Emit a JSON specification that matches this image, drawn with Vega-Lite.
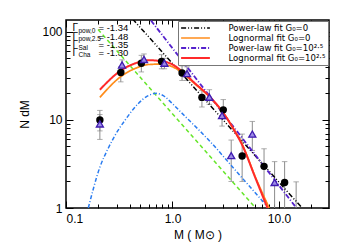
{
  "$schema": "https://vega.github.io/schema/vega-lite/v6.json",
  "width": 263,
  "height": 188,
  "autosize": "none",
  "padding": {"left": 66, "top": 20, "right": 21, "bottom": 42},
  "config": {
    "font": "Liberation Sans",
    "view": {"stroke": "black", "strokeWidth": 1.5},
    "axis": {"domain": false, "grid": false, "labelFont": "Liberation Sans", "labelFontSize": 12, "labelColor": "black", "titleFont": "Liberation Sans", "titleFontSize": 12, "titleFontWeight": "normal", "titleColor": "black", "tickColor": "black", "tickWidth": 1}
  },
  "datasets": {
    "pts": [
      {"type": "circle", "m": 0.208, "n": 10.0, "lo": 7.5, "hi": 12.8},
      {"type": "circle", "m": 0.327, "n": 34.5, "lo": 27, "hi": 40},
      {"type": "circle", "m": 0.51, "n": 44, "lo": 35, "hi": 54},
      {"type": "circle", "m": 0.79, "n": 46, "lo": 38, "hi": 55},
      {"type": "circle", "m": 1.23, "n": 34, "lo": 28, "hi": 41},
      {"type": "circle", "m": 1.89, "n": 18, "lo": 14, "hi": 21.5},
      {"type": "circle", "m": 3.0, "n": 13, "lo": 10.3, "hi": 17},
      {"type": "circle", "m": 4.51, "n": 3.9, "lo": 2.0, "hi": 6.9},
      {"type": "circle", "m": 7.24, "n": 2.97, "lo": 1.2, "hi": 4.7},
      {"type": "circle", "m": 11.3, "n": 1.95, "lo": 0.8, "hi": 3.36},
      {"type": "triangle", "m": 0.208, "n": 9.0, "lo": 6.0, "hi": 11.5},
      {"type": "triangle", "m": 0.336, "n": 42, "lo": 36, "hi": 48},
      {"type": "triangle", "m": 0.54, "n": 48.5, "lo": 42, "hi": 56},
      {"type": "triangle", "m": 0.84, "n": 44, "lo": 38, "hi": 50},
      {"type": "triangle", "m": 1.37, "n": 33.5, "lo": 28, "hi": 40},
      {"type": "triangle", "m": 2.22, "n": 18.1, "lo": 15, "hi": 22},
      {"type": "triangle", "m": 2.92, "n": 11.2, "lo": 8.5, "hi": 13},
      {"type": "triangle", "m": 3.56, "n": 3.93, "lo": 2.0, "hi": 5.9},
      {"type": "triangle", "m": 5.62, "n": 6.9, "lo": 4.5, "hi": 9.6},
      {"type": "triangle", "m": 9.1, "n": 1.95, "lo": 0.8, "hi": 3.36},
      {"type": "triangle", "m": 14.5, "n": 0.5, "lo": 0.7, "hi": 1.98}
    ],
    "fits": [
      {"fit": "Power-law fit G₀=0", "m": 0.35, "n": 180},
      {"fit": "Power-law fit G₀=0", "m": 16.5, "n": 1},
      {"fit": "Power-law fit G₀=10²·⁵", "m": 0.55, "n": 165},
      {"fit": "Power-law fit G₀=10²·⁵", "m": 14.6, "n": 1},
      {"fit": "Lognormal fit G₀=0", "m": 0.208, "n": 18},
      {"fit": "Lognormal fit G₀=0", "m": 0.327, "n": 31},
      {"fit": "Lognormal fit G₀=0", "m": 0.45, "n": 38.5},
      {"fit": "Lognormal fit G₀=0", "m": 0.6, "n": 42.5},
      {"fit": "Lognormal fit G₀=0", "m": 0.79, "n": 43},
      {"fit": "Lognormal fit G₀=0", "m": 1.0, "n": 40},
      {"fit": "Lognormal fit G₀=0", "m": 1.23, "n": 34.5},
      {"fit": "Lognormal fit G₀=0", "m": 1.6, "n": 26},
      {"fit": "Lognormal fit G₀=0", "m": 2.22, "n": 18.3},
      {"fit": "Lognormal fit G₀=0", "m": 3.0, "n": 12},
      {"fit": "Lognormal fit G₀=0", "m": 3.8, "n": 7.7},
      {"fit": "Lognormal fit G₀=0", "m": 4.51, "n": 5.3},
      {"fit": "Lognormal fit G₀=0", "m": 6.0, "n": 2.25},
      {"fit": "Lognormal fit G₀=0", "m": 8.1, "n": 1.0},
      {"fit": "Lognormal fit G₀=10²·⁵", "m": 0.208, "n": 22},
      {"fit": "Lognormal fit G₀=10²·⁵", "m": 0.327, "n": 36.3},
      {"fit": "Lognormal fit G₀=10²·⁵", "m": 0.45, "n": 44},
      {"fit": "Lognormal fit G₀=10²·⁵", "m": 0.6, "n": 47.5},
      {"fit": "Lognormal fit G₀=10²·⁵", "m": 0.79, "n": 46.4},
      {"fit": "Lognormal fit G₀=10²·⁵", "m": 1.0, "n": 42.5},
      {"fit": "Lognormal fit G₀=10²·⁵", "m": 1.23, "n": 35.6},
      {"fit": "Lognormal fit G₀=10²·⁵", "m": 1.6, "n": 26.5},
      {"fit": "Lognormal fit G₀=10²·⁵", "m": 2.22, "n": 18.5},
      {"fit": "Lognormal fit G₀=10²·⁵", "m": 3.0, "n": 12},
      {"fit": "Lognormal fit G₀=10²·⁵", "m": 3.8, "n": 7.6},
      {"fit": "Lognormal fit G₀=10²·⁵", "m": 4.51, "n": 5.2},
      {"fit": "Lognormal fit G₀=10²·⁵", "m": 6.0, "n": 2.2},
      {"fit": "Lognormal fit G₀=10²·⁵", "m": 7.8, "n": 1.0}
    ],
    "sal": [
      {"m": 0.2, "n": 106},
      {"m": 6.05, "n": 1}
    ],
    "cha": [
      {"m": 0.162, "n": 1},
      {"m": 0.208, "n": 2.9},
      {"m": 0.25, "n": 4.8},
      {"m": 0.308, "n": 7.6},
      {"m": 0.356, "n": 9.8},
      {"m": 0.474, "n": 15.2},
      {"m": 0.58, "n": 18.6},
      {"m": 0.705, "n": 20},
      {"m": 0.85, "n": 18.3},
      {"m": 0.97, "n": 15.8},
      {"m": 1.29, "n": 11.2},
      {"m": 1.73, "n": 7.9},
      {"m": 2.22, "n": 5.8},
      {"m": 3.93, "n": 2.65},
      {"m": 5.62, "n": 1.62},
      {"m": 8.0, "n": 1.0}
    ],
    "gam": [
      {"sub": "pow,0", "val": "= -1.34", "n": 109.4},
      {"sub": "pow,2.5", "val": "= -1.48", "n": 87.7},
      {"sub": "Sal", "val": "= -1.35", "n": 70.5},
      {"sub": "Cha", "val": "= -1.30", "n": 57.5}
    ]
  },
  "layer": [
    {
      "layer": [
        {
          "data": {"name": "pts"},
          "mark": {"type": "rule", "color": "#8c8c8c", "strokeWidth": 1, "clip": true},
          "encoding": {
            "x": {"field": "m", "type": "quantitative", "scale": {"type": "log", "domain": [0.1, 29.5], "nice": false},
              "axis": {"title": "M ( M⊙ )", "titleY": 26, "titleBaseline": "middle",
                "values": [0.1,0.2,0.3,0.4,0.5,0.6,0.7,0.8,0.9,1,2,3,4,5,6,7,8,9,10,20],
                "labelExpr": "datum.value==0.1?'0.1':datum.value==1?'1.0':datum.value==10?'10.0':''",
                "tickSize": {"condition": {"test": "datum.value==0.1||datum.value==1||datum.value==10", "value": -7}, "value": -4},
                "labelPadding": 12}},
            "y": {"field": "lo", "type": "quantitative", "scale": {"type": "log", "domain": [1, 136], "nice": false},
              "axis": {"title": "N dM", "titleX": -42, "titleY": 94, "titleAngle": -90, "titleBaseline": "middle", "titleAlign": "center",
                "values": [1,2,3,4,5,6,7,8,9,10,20,30,40,50,60,70,80,90,100],
                "labelExpr": "datum.value==1?'1':datum.value==10?'10':datum.value==100?'100':''",
                "tickSize": {"condition": {"test": "datum.value==1||datum.value==10||datum.value==100", "value": -7}, "value": -4},
                "labelPadding": 11}},
            "y2": {"field": "hi"}
          }
        },
        {
          "data": {"name": "pts"},
          "mark": {"type": "point", "shape": "M-1,0H1", "size": 30, "filled": false, "color": "#8c8c8c", "strokeWidth": 1, "clip": true},
          "encoding": {"x": {"field": "m", "type": "quantitative"}, "y": {"field": "hi", "type": "quantitative"}}
        },
        {
          "data": {"name": "pts"},
          "mark": {"type": "point", "shape": "M-1,0H1", "size": 30, "filled": false, "color": "#8c8c8c", "strokeWidth": 1, "clip": true},
          "encoding": {"x": {"field": "m", "type": "quantitative"}, "y": {"field": "lo", "type": "quantitative"}}
        },
        {
          "data": {"name": "sal"},
          "mark": {"type": "line", "color": "#66e62a", "strokeWidth": 1.5, "strokeDash": [4, 3], "clip": true},
          "encoding": {"x": {"field": "m", "type": "quantitative"}, "y": {"field": "n", "type": "quantitative"}}
        },
        {
          "data": {"name": "cha"},
          "mark": {"type": "line", "color": "#2a7cf0", "strokeWidth": 1.5, "strokeDash": [4, 2, 1, 2], "interpolate": "monotone", "clip": true},
          "encoding": {"x": {"field": "m", "type": "quantitative"}, "y": {"field": "n", "type": "quantitative"}}
        },
        {
          "data": {"name": "fits"},
          "mark": {"type": "line", "interpolate": "monotone", "clip": true},
          "encoding": {
            "x": {"field": "m", "type": "quantitative"},
            "y": {"field": "n", "type": "quantitative"},
            "color": {"field": "fit", "type": "nominal",
              "scale": {"domain": ["Power-law fit G₀=0", "Lognormal fit G₀=0", "Power-law fit G₀=10²·⁵", "Lognormal fit G₀=10²·⁵"], "range": ["#000000", "#ff8c1a", "#5522cc", "#ff2a2a"]},
              "legend": {"orient": "top-right", "offset": 1, "title": null, "symbolType": "M-3.6,0H3.6", "symbolSize": 64, "symbolOffset": 10.5, "symbolStrokeWidth": 1.8, "labelOffset": 28, "labelFontSize": 9.5, "labelFont": "'Liberation Sans Narrow', 'DejaVu Sans Condensed', 'Liberation Sans'", "labelColor": "black", "rowPadding": -1, "padding": 2, "strokeColor": "#777777", "fillColor": "white"}},
            "strokeDash": {"field": "fit", "type": "nominal",
              "scale": {"domain": ["Power-law fit G₀=0", "Lognormal fit G₀=0", "Power-law fit G₀=10²·⁵", "Lognormal fit G₀=10²·⁵"], "range": [[5, 2, 1, 2, 1, 2], [1, 0], [5, 2, 1, 2], [1, 0]]},
              "legend": null},
            "strokeWidth": {"field": "fit", "type": "nominal",
              "scale": {"domain": ["Power-law fit G₀=0", "Lognormal fit G₀=0", "Power-law fit G₀=10²·⁵", "Lognormal fit G₀=10²·⁵"], "range": [1.5, 2, 1.5, 2]},
              "legend": null}
          }
        },
        {
          "data": {"name": "pts"},
          "transform": [{"filter": "datum.type=='circle'"}],
          "mark": {"type": "point", "shape": "circle", "filled": true, "color": "black", "size": 55, "opacity": 1, "clip": true},
          "encoding": {"x": {"field": "m", "type": "quantitative"}, "y": {"field": "n", "type": "quantitative"}}
        },
        {
          "data": {"name": "pts"},
          "transform": [{"filter": "datum.type=='triangle'"}],
          "mark": {"type": "point", "shape": "triangle-up", "filled": true, "fill": "#9d8ce6", "stroke": "#3f1bb0", "strokeWidth": 1.3, "size": 50, "opacity": 1, "clip": true},
          "encoding": {"x": {"field": "m", "type": "quantitative"}, "y": {"field": "n", "type": "quantitative"}}
        },
        {
          "data": {"name": "gam"},
          "mark": {"type": "text", "text": "Γ", "align": "left", "baseline": "middle", "fontSize": 10, "font": "Liberation Sans", "color": "black"},
          "encoding": {"x": {"datum": 0.115, "type": "quantitative"}, "y": {"field": "n", "type": "quantitative"}}
        },
        {
          "data": {"name": "gam"},
          "mark": {"type": "text", "align": "left", "baseline": "middle", "fontSize": 6.5, "dx": 6, "dy": 2.5, "font": "Liberation Sans", "color": "black"},
          "encoding": {"x": {"datum": 0.115, "type": "quantitative"}, "y": {"field": "n", "type": "quantitative"}, "text": {"field": "sub"}}
        },
        {
          "data": {"name": "gam"},
          "mark": {"type": "text", "align": "left", "baseline": "middle", "fontSize": 9.5, "dx": 26, "font": "Liberation Sans", "color": "black"},
          "encoding": {"x": {"datum": 0.115, "type": "quantitative"}, "y": {"field": "n", "type": "quantitative"}, "text": {"field": "val"}}
        }
      ]
    },
    {
      "data": {"name": "sal"},
      "mark": {"type": "point", "opacity": 0},
      "encoding": {
        "x": {"field": "m", "type": "quantitative", "scale": {"type": "log", "domain": [0.1, 29.5], "nice": false},
          "axis": {"orient": "top", "title": null, "labels": false,
            "values": [0.1,0.2,0.3,0.4,0.5,0.6,0.7,0.8,0.9,1,2,3,4,5,6,7,8,9,10,20],
            "tickSize": {"condition": {"test": "datum.value==0.1||datum.value==1||datum.value==10", "value": -7}, "value": -4}}},
        "y": {"field": "n", "type": "quantitative", "scale": {"type": "log", "domain": [1, 136], "nice": false},
          "axis": {"orient": "right", "title": null, "labels": false,
            "values": [1,2,3,4,5,6,7,8,9,10,20,30,40,50,60,70,80,90,100],
            "tickSize": {"condition": {"test": "datum.value==1||datum.value==10||datum.value==100", "value": -7}, "value": -4}}}
      }
    }
  ],
  "resolve": {"axis": {"x": "independent", "y": "independent"}}
}
